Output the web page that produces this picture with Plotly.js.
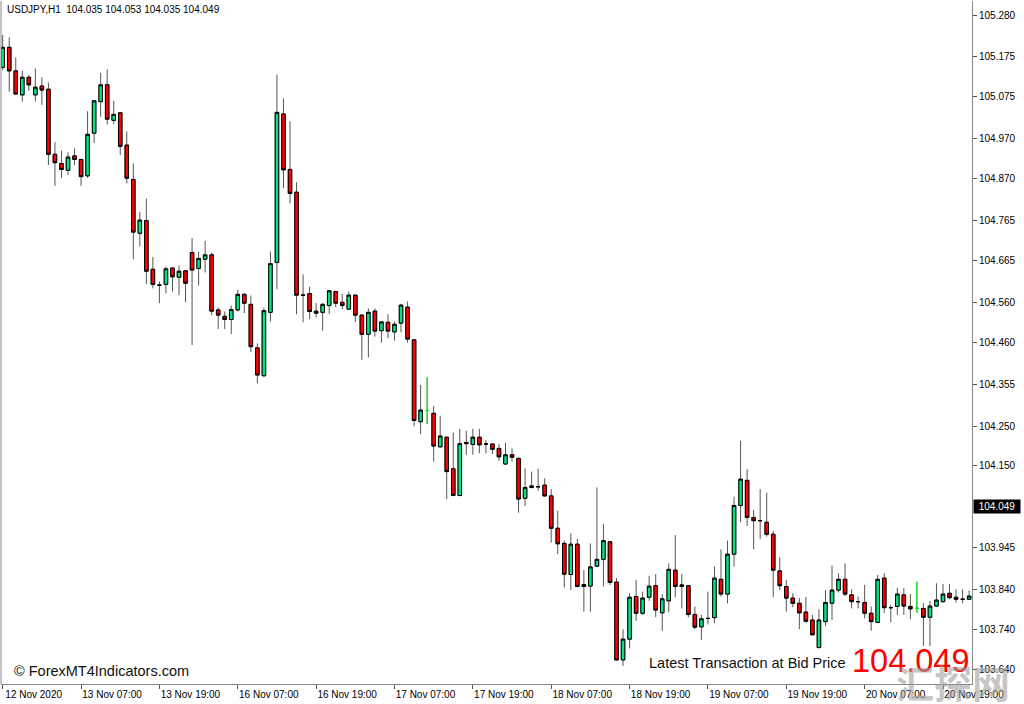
<!DOCTYPE html>
<html>
<head>
<meta charset="utf-8">
<script src="https://cdn.plot.ly/plotly-3.0.1.min.js"></script>
<style>
  html, body { margin: 0; padding: 0; background: #ffffff; }
  #chart { width: 1024px; height: 704px; }
</style>
</head>
<body>
<div id="chart"></div>
<script>
// ---- data (USDJPY H1, candle index 0 = 12 Nov 2020 19:00) ----
const opens = [105.149,105.199,105.140,105.080,105.124,105.080,105.102,105.094,104.931,104.908,
104.891,104.927,104.918,104.877,104.984,105.063,105.105,105.016,105.035,104.954,
104.868,104.733,104.765,104.643,104.603,104.605,104.646,104.623,104.639,104.685,
104.645,104.668,104.679,104.541,104.525,104.517,104.541,104.580,104.555,104.446,
104.376,104.535,104.660,105.032,104.893,104.836,104.578,104.582,104.538,104.535,
104.552,104.587,104.560,104.543,104.578,104.528,104.480,104.538,104.489,104.510,
104.486,104.508,104.548,104.466,104.261,104.289,104.282,104.198,104.222,104.143,
104.076,104.209,104.204,104.222,104.205,104.205,104.194,104.155,104.178,104.169,
104.069,104.096,104.098,104.102,104.075,103.994,103.956,103.878,103.954,103.848,
103.849,103.899,103.916,103.960,103.859,103.664,103.716,103.823,103.781,103.821,
103.850,103.782,103.812,103.889,103.848,103.850,103.778,103.747,103.768,103.770,
103.866,103.829,103.929,104.051,104.114,104.021,104.013,104.009,103.979,103.887,
103.848,103.819,103.806,103.784,103.764,103.695,103.760,103.806,103.839,103.866,
103.827,103.810,103.808,103.781,103.758,103.869,103.795,103.798,103.827,103.798,
103.793,103.793,103.771,103.799,103.810,103.831,103.821,103.816,103.816];
const highs = [105.230,105.224,105.174,105.140,105.130,105.146,105.124,105.111,104.961,104.940,
104.936,104.946,104.920,105.039,105.067,105.135,105.144,105.065,105.037,104.988,
104.908,104.786,104.820,104.674,104.612,104.650,104.648,104.652,104.641,104.721,
104.687,104.714,104.684,104.547,104.537,104.552,104.591,104.583,104.577,104.457,
104.547,104.687,105.130,105.071,105.014,104.861,104.630,104.599,104.558,104.558,
104.591,104.589,104.581,104.587,104.580,104.530,104.545,104.545,104.513,104.530,
104.512,104.556,104.562,104.468,104.353,104.372,104.300,104.276,104.224,104.234,
104.243,104.238,104.243,104.243,104.215,104.207,104.205,104.208,104.194,104.171,
104.144,104.136,104.143,104.119,104.092,104.038,103.963,103.981,103.967,103.889,
103.956,104.096,104.005,103.962,103.869,103.741,103.831,103.864,103.835,103.875,
103.879,103.829,103.906,103.977,103.879,103.852,103.798,103.777,103.835,103.898,
103.941,103.963,104.073,104.213,104.142,104.040,104.092,104.083,103.987,103.921,
103.864,103.831,103.819,103.822,103.777,103.791,103.839,103.900,103.881,103.906,
103.841,103.823,103.852,103.798,103.877,103.881,103.802,103.845,103.844,103.829,
103.860,103.806,103.812,103.856,103.854,103.854,103.841,103.841,103.838];
const lows = [105.142,105.088,105.080,105.063,105.090,105.063,105.055,104.904,104.852,104.872,
104.879,104.904,104.852,104.872,104.959,105.025,105.006,105.006,104.929,104.858,
104.668,104.700,104.606,104.595,104.558,104.583,104.587,104.578,104.560,104.453,
104.602,104.635,104.528,104.493,104.493,104.480,104.537,104.533,104.435,104.357,
104.374,104.512,104.593,104.846,104.808,104.530,104.510,104.518,104.522,104.489,
104.531,104.548,104.543,104.541,104.510,104.416,104.422,104.474,104.459,104.470,
104.464,104.485,104.459,104.250,104.230,104.255,104.161,104.196,104.067,104.074,
104.074,104.178,104.178,104.182,104.182,104.180,104.163,104.153,104.161,104.033,
104.050,104.094,104.088,104.073,103.958,103.929,103.845,103.839,103.846,103.785,
103.785,103.897,103.848,103.852,103.662,103.649,103.693,103.762,103.777,103.812,
103.771,103.737,103.783,103.821,103.793,103.771,103.741,103.714,103.753,103.756,
103.823,103.806,103.898,104.009,104.000,103.941,103.967,103.973,103.821,103.839,
103.785,103.796,103.741,103.757,103.725,103.693,103.749,103.764,103.833,103.824,
103.793,103.793,103.768,103.737,103.756,103.782,103.758,103.777,103.777,103.766,
103.782,103.699,103.699,103.797,103.808,103.816,103.808,103.806,103.814];
const closes = [105.199,105.140,105.082,105.124,105.105,105.099,105.092,104.931,104.910,104.893,
104.924,104.918,104.875,104.981,105.065,105.105,105.019,105.031,104.951,104.871,
104.736,104.766,104.638,104.605,104.603,104.644,104.624,104.638,104.608,104.641,
104.670,104.679,104.538,104.528,104.517,104.542,104.580,104.558,104.449,104.378,
104.539,104.657,105.036,104.892,104.833,104.578,104.578,104.537,104.533,104.555,
104.589,104.558,104.552,104.578,104.528,104.480,104.535,104.488,104.511,104.488,
104.505,104.553,104.468,104.264,104.290,104.289,104.200,104.225,104.136,104.076,
104.206,104.206,104.222,104.203,104.205,104.192,104.173,104.178,104.172,104.067,
104.096,104.100,104.098,104.075,103.994,103.955,103.879,103.954,103.848,103.853,
103.897,103.916,103.963,103.858,103.664,103.716,103.821,103.781,103.819,103.849,
103.789,103.817,103.891,103.848,103.852,103.778,103.746,103.767,103.768,103.869,
103.829,103.929,104.051,104.117,104.021,104.013,104.013,103.979,103.889,103.850,
103.819,103.806,103.782,103.761,103.727,103.764,103.808,103.839,103.866,103.829,
103.810,103.810,103.781,103.760,103.866,103.795,103.795,103.829,103.799,103.792,
103.793,103.771,103.799,103.814,103.829,103.820,103.816,103.816,103.824];
// candles drawn in the lime "doji" colour
const limeCandles = [65, 140];

// axis labels
const timeTickIndex = [0, 12, 24, 36, 48, 60, 72, 84, 96, 108, 120, 132, 144];
const timeTickText = ['12 Nov 2020','13 Nov 07:00','13 Nov 19:00','16 Nov 07:00','16 Nov 19:00',
  '17 Nov 07:00','17 Nov 19:00','18 Nov 07:00','18 Nov 19:00','19 Nov 07:00','19 Nov 19:00',
  '20 Nov 07:00','20 Nov 19:00'];
const priceTicks = [105.280,105.175,105.075,104.970,104.870,104.765,104.665,104.560,104.460,
  104.355,104.250,104.150,103.945,103.840,103.740,103.640];
const bidPrice = 104.049;
const headerText = 'USDJPY,H1\u00a0 104.035 104.053 104.035 104.049';

// ---- build traces ----
const idx = opens.map((_, i) => i);
const bodyHigh = opens.map((o, i) => Math.max(o, closes[i]));
const bodyLow = opens.map((o, i) => Math.min(o, closes[i]));

const GREEN = '#00E582';
const RED = '#FF0000';

const wickTrace = {
  type: 'candlestick', x: idx, open: opens, high: highs, low: lows, close: closes,
  increasing: { line: { color: '#555555', width: 1 }, fillcolor: '#555555' },
  decreasing: { line: { color: '#555555', width: 1 }, fillcolor: '#555555' },
  whiskerwidth: 0, hoverinfo: 'skip', showlegend: false
};
const bodyTrace = {
  type: 'candlestick', x: idx, open: opens, high: bodyHigh, low: bodyLow, close: closes,
  increasing: { line: { color: '#000000', width: 1 }, fillcolor: GREEN },
  decreasing: { line: { color: '#000000', width: 1 }, fillcolor: RED },
  whiskerwidth: 0, hoverinfo: 'skip', showlegend: false
};
const limeTrace = {
  type: 'candlestick',
  x: limeCandles,
  open: limeCandles.map(i => opens[i]),
  high: limeCandles.map(i => highs[i]),
  low: limeCandles.map(i => lows[i]),
  close: limeCandles.map(i => closes[i]),
  increasing: { line: { color: '#00FF00', width: 1 }, fillcolor: '#00FF00' },
  decreasing: { line: { color: '#00FF00', width: 1 }, fillcolor: '#00FF00' },
  whiskerwidth: 0, hoverinfo: 'skip', showlegend: false
};

const TICKFONT = { family: 'Liberation Sans, Arial, sans-serif', size: 10, color: '#000000' };

const layout = {
  width: 1024, height: 704,
  margin: { l: 1, r: 52, t: 1, b: 20, pad: 0 },
  paper_bgcolor: '#ffffff', plot_bgcolor: '#ffffff',
  showlegend: false,
  hovermode: false,
  boxmode: 'overlay',
  boxgap: 0.25,
  boxgroupgap: 0.28,
  xaxis: {
    range: [-0.26, 148.44],
    rangeslider: { visible: false },
    tickmode: 'array', tickvals: timeTickIndex, ticktext: timeTickText,
    ticks: 'outside', ticklen: 4, tickcolor: '#555555', tickwidth: 1,
    ticklabelshift: 31,
    ticklabelstandoff: -3,
    showline: true, linecolor: '#888888', linewidth: 1,
    showgrid: false, zeroline: false,
    tickfont: TICKFONT,
    fixedrange: true
  },
  yaxis: {
    side: 'right',
    range: [103.6037, 105.3151],
    tickmode: 'array', tickvals: priceTicks, ticktext: priceTicks.map(v => v.toFixed(3)),
    ticks: 'outside', ticklen: 4, tickcolor: '#555555', tickwidth: 1,
    showline: true, linecolor: '#888888', linewidth: 1,
    showgrid: false, zeroline: false,
    tickfont: TICKFONT,
    fixedrange: true
  },
  shapes: [
    { type: 'line', xref: 'paper', yref: 'paper', x0: 0, x1: 0, y0: 0, y1: 1,
      line: { color: '#888888', width: 1 } }
  ],
  annotations: [
    { xref: 'paper', yref: 'paper', x: 0.004, y: 0.9875, xanchor: 'left', yanchor: 'middle',
      text: headerText, showarrow: false,
      font: { family: 'Liberation Sans, Arial, sans-serif', size: 10, color: '#000000' } },
    { xref: 'paper', yref: 'paper', x: 0.0115, y: 0.0195, xanchor: 'left', yanchor: 'middle',
      text: '© ForexMT4Indicators.com', showarrow: false,
      font: { family: 'Liberation Sans, Arial, sans-serif', size: 14.5, color: '#111111' } },
    { xref: 'paper', yref: 'paper', x: 0.6653, y: 0.0305, xanchor: 'left', yanchor: 'middle',
      text: 'Latest Transaction at Bid Price', showarrow: false,
      font: { family: 'Liberation Sans, Arial, sans-serif', size: 14.5, color: '#111111' } },
    { xref: 'paper', yref: 'paper', x: 0.8745, y: 0.034, xanchor: 'left', yanchor: 'middle',
      text: bidPrice.toFixed(3), showarrow: false,
      font: { family: 'Liberation Sans, Arial, sans-serif', size: 32.5, color: '#FF0000' } },
    { xref: 'paper', yref: 'y', x: 1, y: bidPrice, xanchor: 'left', yanchor: 'middle',
      text: bidPrice.toFixed(3), showarrow: false, bgcolor: '#000000', borderpad: 1,
      width: 44, align: 'center', xshift: 1,
      font: { family: 'Liberation Sans, Arial, sans-serif', size: 10, color: '#ffffff' } },
    { xref: 'paper', yref: 'paper', x: 0.98, y: 0.004, xanchor: 'center', yanchor: 'middle',
      text: '<b>汇探网</b>', showarrow: false,
      font: { family: 'Noto Sans CJK SC, sans-serif', size: 38, color: 'rgba(160,160,160,0.6)' } }
  ]
};

Plotly.newPlot('chart', [wickTrace, bodyTrace, limeTrace], layout,
  { staticPlot: true, displayModeBar: false });
</script>
</body>
</html>
